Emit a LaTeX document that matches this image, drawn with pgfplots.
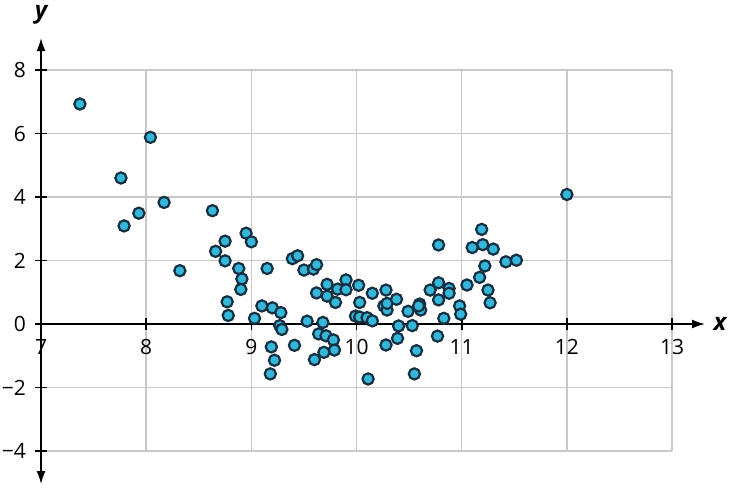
\documentclass[border=0pt]{standalone}
\usepackage{pgfplots}
\pgfplotsset{compat=1.18}
\usepackage{fontspec}
\setmainfont{Open Sans}
\usetikzlibrary{arrows.meta}
\definecolor{ptfill}{RGB}{52,183,217}
\definecolor{ptedge}{RGB}{20,48,66}
\definecolor{gridc}{RGB}{200,200,200}
\pgfplotstableread{
x y
7.37 6.93
8.04 5.88
7.76 4.60
8.17 3.83
7.93 3.49
7.79 3.09
8.63 3.57
8.75 2.61
8.66 2.29
8.75 1.99
8.32 1.68
8.95 2.86
9.00 2.59
8.88 1.75
8.91 1.42
8.90 1.09
9.15 1.75
8.77 0.70
8.78 0.27
9.03 0.18
9.10 0.57
9.20 0.51
9.28 0.36
9.27 -0.05
9.29 -0.17
9.19 -0.72
9.22 -1.14
9.18 -1.57
9.41 -0.67
9.39 2.06
9.44 2.15
9.50 1.70
9.59 1.73
9.62 1.87
9.62 0.98
9.72 1.25
9.72 0.88
9.80 0.68
9.82 1.10
9.90 1.39
9.90 1.08
10.02 1.22
9.53 0.09
9.68 0.05
9.64 -0.31
9.71 -0.37
9.78 -0.50
9.79 -0.82
9.69 -0.89
9.60 -1.12
10.03 0.68
9.99 0.25
10.03 0.22
10.10 0.20
10.15 0.10
10.11 -1.73
10.15 0.97
10.28 1.07
10.26 0.57
10.29 0.44
10.29 0.65
10.38 0.78
10.49 0.40
10.60 0.63
10.61 0.44
10.59 0.57
10.40 -0.06
10.53 -0.05
10.28 -0.66
10.39 -0.45
10.57 -0.84
10.55 -1.57
10.78 2.49
10.70 1.07
10.78 1.30
10.88 1.12
10.88 0.97
10.78 0.76
10.83 0.18
10.98 0.57
10.99 0.31
10.77 -0.38
11.05 1.23
11.19 2.98
11.10 2.41
11.20 2.50
11.30 2.36
11.22 1.83
11.17 1.47
11.25 1.07
11.27 0.67
11.42 1.96
11.52 2.01
12.00 4.08
}\datatable
\begin{document}
\begin{tikzpicture}
\begin{axis}[
  x=52.58pt, y=15.875pt,
  xmin=7, xmax=13, ymin=-4, ymax=8,
  axis x line=middle,
  axis y line=left,
  hide obscured x ticks=false,
  hide obscured y ticks=false,
  x axis line style={line width=0.8pt, -{Latex[length=6.5pt,width=4.5pt]}, shorten >=-16.5pt},
  y axis line style={line width=0.8pt, {Latex[length=6.5pt,width=4.5pt]}-{Latex[length=6.5pt,width=4.5pt]}, shorten >=-16pt, shorten <=-16.5pt},
  xtick={7,8,9,10,11,12,13},
  xticklabels={7,8,9,10,11,12,13},
  ytick={-4,-2,0,2,4,6,8},
  yticklabels={−4,−2,0,2,4,6,8},
  tick align=center,
  major tick length=6pt,
  tick style={line width=0.8pt, black},
  grid=major,
  grid style={gridc, line width=0.75pt},
  ticklabel style={font=\fontsize{10.5}{12}\selectfont},
  yticklabel style={xshift=-1pt},
  xticklabel style={yshift=-1pt},
  clip=false,
]
\addplot[only marks, mark=*, mark size=2.8pt, mark options={fill=ptfill, draw=ptedge, line width=1.1pt}] table[x=x,y=y] {\datatable};
\node[font=\fontsize{12}{14}\selectfont\bfseries\itshape] at (axis cs:13.456,0) {x};
\node[font=\fontsize{12}{14}\selectfont\bfseries\itshape] at (axis cs:7.0,9.73) {y};
\path (axis cs:6.61,-5.134) coordinate (bl) (axis cs:13.551,10.205) coordinate (tr);
\end{axis}
\pgfresetboundingbox
\path[use as bounding box] (bl) rectangle (tr);
\end{tikzpicture}
\end{document}
